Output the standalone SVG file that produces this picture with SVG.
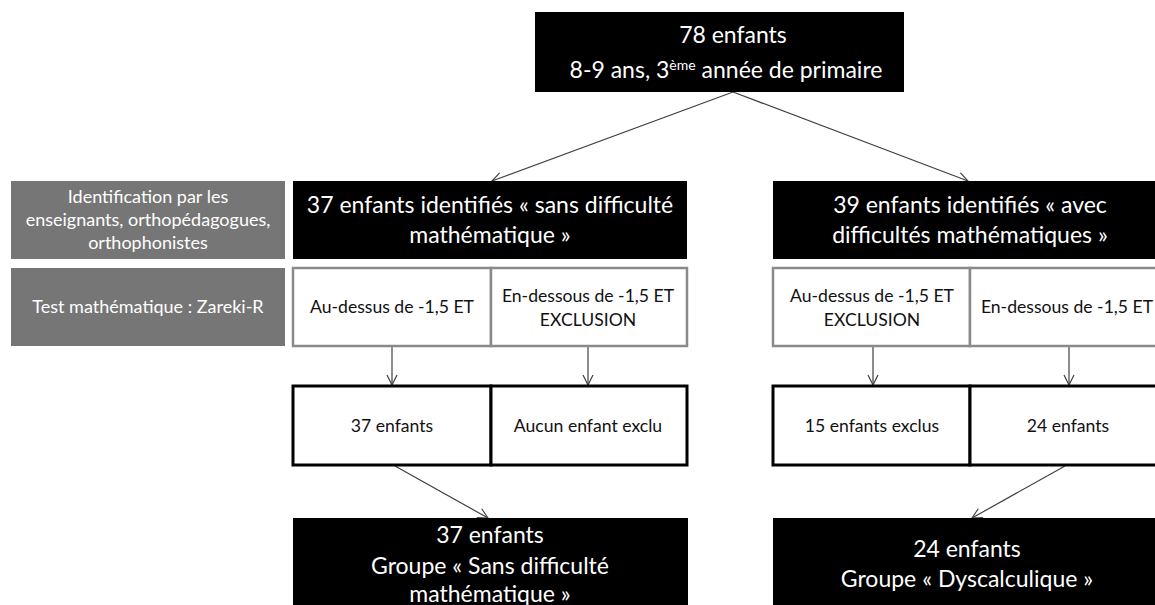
<svg xmlns="http://www.w3.org/2000/svg" width="1155" height="605" viewBox="0 0 1155 605">
<defs>
<style>
.blk{fill:#000}
.gry{fill:#767676}
.wbox{fill:#fff;stroke:#8a8a8a;stroke-width:2.5}
.rbox{fill:#fff;stroke:#000;stroke-width:3}
.tw{fill:#fff;font-family:Lato,"Liberation Sans",sans-serif;text-anchor:middle}
.tb{fill:#111;font-family:Lato,"Liberation Sans",sans-serif;text-anchor:middle}
.big{font-size:23px}
.lab{font-size:18px}
.sm{font-size:17.6px}
.con{stroke:#404040;stroke-width:1.2;fill:none;marker-end:url(#ah)}
</style>
<marker id="ah" viewBox="0 0 12 12" refX="11" refY="6" markerWidth="12" markerHeight="12" markerUnits="userSpaceOnUse" orient="auto">
<path d="M1,1 L11,6 L1,11" fill="none" stroke="#404040" stroke-width="1.2"/>
</marker>
</defs>
<rect width="1155" height="605" fill="#fff"/>
<g id="connectors">
<line class="con" x1="733" y1="92" x2="492" y2="181"/>
<line class="con" x1="733" y1="92" x2="968" y2="181"/>
<line class="con" x1="392" y1="346" x2="392" y2="385"/>
<line class="con" x1="588" y1="346" x2="588" y2="385"/>
<line class="con" x1="873" y1="346" x2="873" y2="385"/>
<line class="con" x1="1069" y1="346" x2="1069" y2="385"/>
<line class="con" x1="395" y1="466" x2="488" y2="518"/>
<line class="con" x1="1065" y1="466" x2="972" y2="518"/>
</g>
<g id="top">
<rect class="blk" x="535" y="12" width="369" height="80"/>
<text class="tw big" x="733" y="43">78 enfants</text>
<text class="tw big" x="726" y="78">8-9 ans, 3<tspan font-size="14" dy="-8">ème</tspan><tspan dy="8"> année de primaire</tspan></text>
</g>
<g id="label-identification">
<rect class="gry" x="11" y="181" width="274" height="78"/>
<text class="tw lab" x="148" y="203">Identification par les</text>
<text class="tw lab" x="148" y="226">enseignants, orthopédagogues,</text>
<text class="tw lab" x="148" y="249">orthophonistes</text>
</g>
<g id="label-test">
<rect class="gry" x="11" y="268" width="274" height="78"/>
<text class="tw lab" x="148" y="313">Test mathématique : Zareki-R</text>
</g>
<g id="sans-identifies">
<rect class="blk" x="293" y="181" width="394" height="78"/>
<text class="tw big" x="490" y="213">37 enfants identifiés « sans difficulté</text>
<text class="tw big" x="490" y="243">mathématique »</text>
</g>
<g id="avec-identifies">
<rect class="blk" x="773" y="181" width="390" height="78"/>
<text class="tw big" x="970" y="213">39 enfants identifiés « avec</text>
<text class="tw big" x="970" y="243">difficultés mathématiques »</text>
</g>
<g id="test-left-above">
<rect class="wbox" x="293" y="268" width="198" height="78"/>
<text class="tb sm" x="392" y="313">Au-dessus de -1,5 ET</text>
</g>
<g id="test-left-below">
<rect class="wbox" x="491" y="268" width="196" height="78"/>
<text class="tb sm" x="588" y="302">En-dessous de -1,5 ET</text>
<text class="tb sm" x="588" y="326">EXCLUSION</text>
</g>
<g id="test-right-above">
<rect class="wbox" x="773" y="268" width="197" height="78"/>
<text class="tb sm" x="872" y="302">Au-dessus de -1,5 ET</text>
<text class="tb sm" x="872" y="326">EXCLUSION</text>
</g>
<g id="test-right-below">
<rect class="wbox" x="970" y="268" width="195" height="78"/>
<text class="tb sm" x="1067" y="313">En-dessous de -1,5 ET</text>
</g>
<g id="res-left-37">
<rect class="rbox" x="293" y="386" width="198" height="79"/>
<text class="tb sm" x="392" y="432">37 enfants</text>
</g>
<g id="res-left-aucun">
<rect class="rbox" x="491" y="386" width="196" height="79"/>
<text class="tb sm" x="588" y="432">Aucun enfant exclu</text>
</g>
<g id="res-right-15">
<rect class="rbox" x="773" y="386" width="197" height="79"/>
<text class="tb sm" x="872" y="432">15 enfants exclus</text>
</g>
<g id="res-right-24">
<rect class="rbox" x="970" y="386" width="195" height="79"/>
<text class="tb sm" x="1068" y="432">24 enfants</text>
</g>
<g id="groupe-sans">
<rect class="blk" x="293" y="518" width="395" height="90"/>
<text class="tw big" x="490" y="543">37 enfants</text>
<text class="tw big" x="490" y="574">Groupe « Sans difficulté</text>
<text class="tw big" x="490" y="602">mathématique »</text>
</g>
<g id="groupe-dys">
<rect class="blk" x="773" y="518" width="390" height="90"/>
<text class="tw big" x="967" y="557">24 enfants</text>
<text class="tw big" x="967" y="587">Groupe « Dyscalculique »</text>
</g>
</svg>
